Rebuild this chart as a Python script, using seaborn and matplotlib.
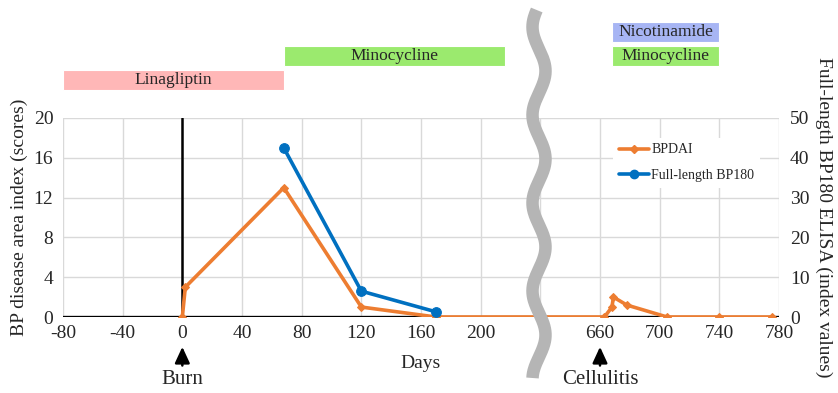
import numpy as np
import matplotlib
matplotlib.use("Agg")
import matplotlib.pyplot as plt
from matplotlib.lines import Line2D
import seaborn as sns

# BPDAI (left axis) and full-length BP180 ELISA (right axis), by day after the burn
bpdai_days = [0, 2, 68, 120, 170, 663, 668, 669, 678, 705, 740, 775]
bpdai_scores = [0, 3, 13, 1, 0, 0, 1, 2, 1.2, 0, 0, 0]
bp180_days = [68, 120, 170]
bp180_index = [42.5, 6.5, 1.3]

# treatment periods drawn above the chart (row 0 = top)
drug_names = ["Linagliptin", "Minocycline", "Nicotinamide", "Minocycline"]
drug_start = [-80, 68, 668, 668]
drug_end = [68, 216, 740, 740]
drug_row = [2, 1, 0, 1]

# events marked under the x axis
event_names = ["Burn", "Cellulitis"]
event_days = [0, 660]

x_tick_labels = ["-80", "-40", "0", "40", "80", "120", "160", "200", "",
                 "660", "700", "740", "780"]
left_ticks = [0, 4, 8, 12, 16, 20]
right_ticks = [0, 10, 20, 30, 40, 50]

ORANGE = "#ED7D31"
BLUE = "#0070C0"
DRUG_COLORS = {"Linagliptin": "#FFB7B7", "Minocycline": "#9BEA6E", "Nicotinamide": "#A7B5F4"}

# the axis skips 380 days after day 240
GAP = 380


def to_axis(days):
    d = np.asarray(days, dtype=float)
    return np.where(d > 400, d - GAP, d)


sns.set_theme(style="white")
plt.rcParams["font.family"] = ["Liberation Serif", "DejaVu Serif"]

W, H = 838, 393
fig = plt.figure(figsize=(W / 100, H / 100), dpi=100)

# main plot area, in pixels: x 63..779, y 118..317
ax = fig.add_axes([63 / W, 1 - 317 / H, (779 - 63) / W, (317 - 118) / H])
ax.set_xlim(-80, 400)
ax.set_ylim(0, 20)
ax.set_xticks(np.arange(-80, 401, 40))
ax.set_xticklabels(x_tick_labels)
ax.set_yticks(left_ticks)
ax.grid(True, color="#D9D9D9", lw=1)
ax.set_axisbelow(True)
for s in ax.spines.values():
    s.set_visible(False)
ax.tick_params(length=0, labelsize=14, pad=6)
ax.tick_params(axis="y", pad=7)

ax.axhline(0, color="black", lw=2.4, zorder=2)
ax.axvline(0, color="black", lw=1.8, zorder=2)

sns.lineplot(x=to_axis(bpdai_days), y=bpdai_scores, ax=ax, color=ORANGE, lw=2.6,
             marker="D", markersize=4.5, markeredgecolor=ORANGE, estimator=None,
             legend=False, zorder=3)
ax.set_xlabel("Days", fontsize=14, labelpad=9)
ax.set_ylabel("BP disease area index (scores)", fontsize=14, labelpad=4)

ax2 = ax.twinx()
ax2.set_ylim(0, 50)
ax2.set_yticks(right_ticks)
for s in ax2.spines.values():
    s.set_visible(False)
ax2.tick_params(length=0, labelsize=14, pad=8)
sns.lineplot(x=to_axis(bp180_days), y=bp180_index, ax=ax2, color=BLUE, lw=2.6,
             marker="o", markersize=7, markeredgecolor=BLUE, estimator=None,
             legend=False, zorder=3)
ax2.set_ylabel("Full-length BP180 ELISA (index values)", fontsize=14,
               rotation=270, labelpad=16)
ax2.grid(False)

handles = [
    Line2D([], [], color=ORANGE, lw=2.6, marker="D", markersize=4.5),
    Line2D([], [], color=BLUE, lw=2.6, marker="o", markersize=6),
]
leg = ax2.legend(handles, ["BPDAI", "Full-length BP180"], loc="upper left",
                 bbox_to_anchor=(606 / W, 1 - 131 / H), bbox_transform=fig.transFigure,
                 fontsize=10, frameon=True, facecolor="white", edgecolor="none",
                 framealpha=1, fancybox=False, handlelength=2.2, handletextpad=0.15,
                 labelspacing=0.9, borderpad=0.4)

# events: arrow + label below the tick labels
for name, d in zip(event_names, event_days):
    xp = float(to_axis([d])[0])
    ax.annotate(name, xy=(xp, -0.15), xycoords=("data", "axes fraction"),
                xytext=(xp, -0.315), textcoords=("data", "axes fraction"),
                ha="center", va="center", fontsize=15, annotation_clip=False,
                arrowprops=dict(arrowstyle="-|>,head_width=0.3,head_length=0.65",
                                color="black", lw=1.8, shrinkA=1, shrinkB=0))

# treatment bars above the plot: pixel rows 20..92
ax_top = fig.add_axes([63 / W, 1 - 92 / H, (779 - 63) / W, 72 / H])
ax_top.set_xlim(-80, 400)
ax_top.set_ylim(2.5, -0.5)
ax_top.axis("off")
starts = to_axis(drug_start)
ends = to_axis(drug_end)
ax_top.barh(drug_row, ends - starts, left=starts, height=0.84,
            color=[DRUG_COLORS[n] for n in drug_names], edgecolor="white", lw=0.8)
for name, s, e, r in zip(drug_names, starts, ends, drug_row):
    ax_top.text((s + e) / 2, r, name, ha="center", va="center", fontsize=12.5)

# gray wavy line marking the axis break
wy = np.linspace(10, 378, 300)
wx = 539 - 6.5 * np.cos(2 * np.pi * (wy - 27) / 88)
fig.add_artist(Line2D(wx / W, 1 - wy / H, transform=fig.transFigure,
                      color="#B5B5B5", lw=9, solid_capstyle="butt", zorder=5))

fig.savefig("out.png", dpi=100)
